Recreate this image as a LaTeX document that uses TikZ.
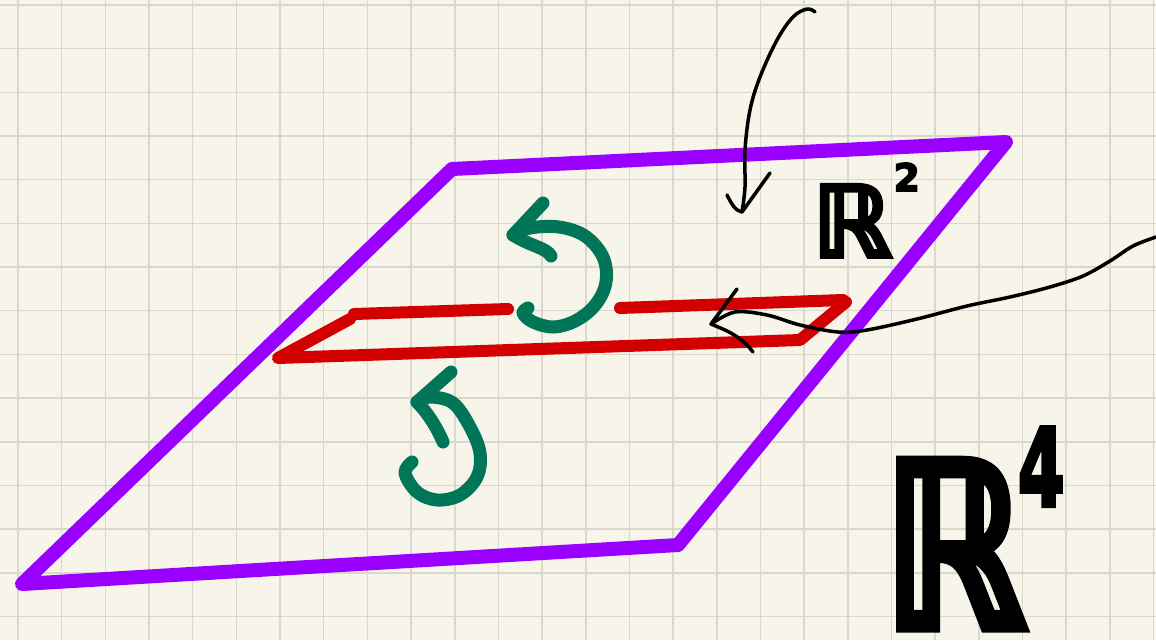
\documentclass[tikz,border=0pt]{standalone}
\usepackage{fontspec}
\newfontfamily\dvs{DejaVu Sans}[FakeBold=4]
\definecolor{paper}{RGB}{247,245,233}
\definecolor{gridc}{RGB}{216,216,204}
\definecolor{purp}{RGB}{153,0,255}
\definecolor{redc}{RGB}{210,0,0}
\definecolor{grn}{RGB}{0,117,88}
\begin{document}
\begin{tikzpicture}[x=1pt,y=-1pt,
  pen/.style={line cap=round,line join=round},
  purpleline/.style={pen,draw=purp,line width=14pt},
  redline/.style={pen,draw=redc,line width=12pt},
  greenline/.style={pen,draw=grn,line width=13pt},
  inkline/.style={pen,draw=black,line width=3.5pt},
  gridline/.style={draw=gridc,line width=1.6pt},
  label/.style={anchor=base west,inner sep=0pt,text=black}]
\fill[paper] (0,0) rectangle (1156,640);
\useasboundingbox (0,0) rectangle (1156,640);
\foreach \i in {0,...,26} \draw[gridline] ({18+\i*43.67},0) -- ({18+\i*43.67},640);
\foreach \j in {0,...,14} \draw[gridline] (0,{5+\j*43.67}) -- (1156,{5+\j*43.67});
% purple plane
\draw[purpleline] (452,169) -- (1006,142) -- (678,545) -- (22,584) -- cycle;
% red plane
\draw[redline] (350,319) -- (278,358) -- (800,340) -- (846,302);
\draw[redline] (354,314) -- (508,309);
\draw[redline] (620,308) -- (843,300);
% upper green rotation arrow
\draw[greenline] plot[smooth,tension=0.6] coordinates {(513,235) (530,228) (559,227) (585,236) (603,257) (606,282) (596,304) (577,320) (554,327) (533,322) (523,313) (528,308)};
\draw[greenline] (543,203) -- (513,235) .. controls (530,246) and (547,248) .. (551,256);
% lower green rotation arrow
\draw[greenline] plot[smooth,tension=0.6] coordinates {(417,402) (430,397) (453,403) (470,427) (480,453) (477,477) (460,495) (437,500) (417,492) (405,473) (412,462)};
\draw[greenline] (451,372) -- (417,402) .. controls (425,410) and (436,425) .. (443,442);
% black pointer arrows
\coordinate (t1) at (742,212);
\draw[inkline] plot[smooth,tension=0.6] coordinates {(815,12) (807,9) (793,17) (777,40) (760,77) (750,110) (745,150) (745,187) (742,212)};
\draw[inkline] (727,195) .. controls (732,205) and (736,211) .. (t1) -- (770,173);
\coordinate (t2) at (711,324);
\draw[inkline] plot[smooth,tension=0.55] coordinates {(1156,237) (1133,246) (1110,261) (1083,276) (1050,287) (1010,297) (967,306) (917,319) (867,330) (838,332) (800,325) (767,315) (735,312) (711,324)};
\draw[inkline] (737,289) -- (t2) .. controls (725,330) and (740,335) .. (753,352);
% labels
\node[label] (r2) at (812,257) {\dvs\bfseries\fontsize{99}{99}\selectfont ℝ\hspace{2pt}\raisebox{66pt}{\fontsize{38}{38}\selectfont 2}};
\node[label] (r4) at (882,628) {\raisebox{0pt}[\height][0pt]{\dvs\bfseries\fontsize{230}{230}\selectfont \scalebox{0.78}[1]{ℝ}\hspace{-8pt}\raisebox{122pt}{\scalebox{0.62}[1]{\fontsize{108}{108}\selectfont 4}}}};
\end{tikzpicture}
\end{document}
